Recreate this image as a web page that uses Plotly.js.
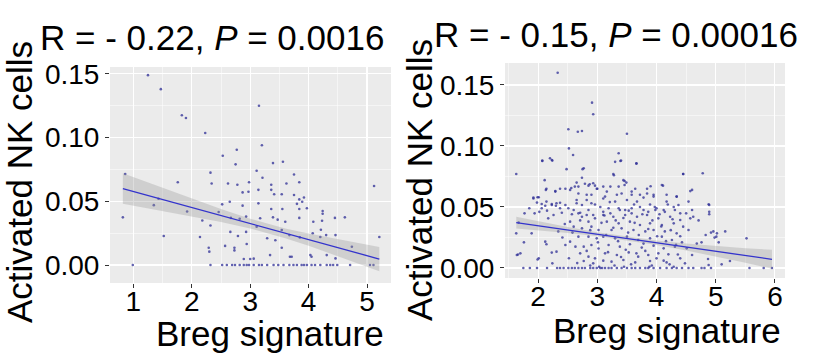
<!DOCTYPE html>
<html><head><meta charset="utf-8">
<script src="https://cdn.plot.ly/plotly-3.0.1.min.js"></script>
<style>html,body{margin:0;padding:0;background:#fff}#chart{width:819px;height:363px}</style>
</head><body><div id="chart"></div>
<script>
// ---- Left panel data ----
const breg1 = [1.25,1.47,1.83,1.90,2.23,3.15,3.20,2.77,2.53,2.75,3.39,3.56,3.11,2.32,3.75,0.86,2.34,2.62,2.78,2.98,3.21,3.36,3.62,3.84,1.76,5.12,2.87,2.97,3.14,3.36,3.41,3.54,3.75,3.84,3.92,3.80,3.89,1.35,1.43,2.52,2.65,2.87,3.14,3.36,3.55,3.84,3.97,4.24,4.24,4.45,4.62,0.82,1.92,2.18,2.46,2.67,2.82,2.93,3.17,3.39,3.47,3.60,3.84,4.08,4.23,1.52,2.14,2.32,2.66,2.79,2.93,3.11,3.29,3.43,3.54,3.67,3.85,4.07,4.21,4.30,4.46,4.20,5.21,2.29,2.30,2.57,2.73,2.73,2.94,3.34,3.54,3.68,3.71,4.03,4.05,4.31,4.46,4.74,2.89,3.00,3.06,
0.99,2.32,2.52,2.60,2.69,2.74,2.82,2.89,2.94,2.98,3.06,3.15,3.20,3.29,3.40,3.48,3.57,3.67,3.74,3.80,3.88,3.92,3.97,4.05,4.11,4.20,4.31,4.37,4.42,4.49,4.71,5.05,5.11];
const nk1 = [0.149,0.138,0.1175,0.1154,0.1036,0.125,0.094,0.0905,0.0858,0.079,0.080,0.081,0.074,0.0725,0.071,0.0714,0.064,0.064,0.063,0.065,0.0685,0.063,0.064,0.065,0.065,0.062,0.057,0.0575,0.059,0.059,0.0555,0.0555,0.055,0.0515,0.053,0.048,0.0497,0.047,0.052,0.0476,0.0497,0.0466,0.0484,0.044,0.044,0.044,0.0445,0.0424,0.0403,0.037,0.0374,0.0374,0.042,0.035,0.0416,0.037,0.0363,0.038,0.0367,0.0374,0.0356,0.034,0.037,0.034,0.0348,0.0228,0.022,0.031,0.026,0.0228,0.026,0.030,0.021,0.0194,0.0275,0.0235,0.0217,0.0249,0.0277,0.0235,0.0235,0.022,0.022,0.0136,0.0105,0.015,0.0136,0.0115,0.0165,0.0078,0.0136,0.0065,0.0065,0.0078,0.0065,0.0078,0.0052,0.0144,0.0047,0.0047,0.005,
0,0,0,0,0,0,0,0,0,0,0,0,0,0,0,0,0,0,0,0,0,0,0,0,0,0,0,0,0,0,0,0,0];
const fitX1 = [0.82,1.5,2.0,2.5,3.0,3.3,3.6,4.0,4.5,5.21];
const fitY1 = [0.0600,0.0514,0.0451,0.0388,0.0325,0.0287,0.0249,0.0199,0.0136,0.0047];
const upper1 = [0.0720,0.0604,0.0521,0.0439,0.0363,0.0322,0.0287,0.0247,0.0202,0.0142];
const lower1 = [0.0480,0.0424,0.0381,0.0337,0.0287,0.0252,0.0211,0.0151,0.0070,-0.0048];
const title1 = 'R = - 0.22, <i>P</i> = 0.0016';

// ---- Right panel data ----
const breg2 = [2.33,2.91,2.93,2.51,2.67,2.74,3.50,2.52,2.59,2.07,2.20,2.24,3.36,3.39,3.66,1.63,2.48,2.75,4.45,4.78,3.28,2.74,2.68,2.56,2.46,2.87,2.96,3.00,3.46,3.46,3.22,3.90,4.11,
2.13,2.29,1.92,1.99,2.06,2.12,2.23,2.30,2.37,2.46,2.65,2.82,3.05,3.13,3.33,3.58,3.72,3.84,3.95,4.17,4.34,4.57,4.88,4.89,1.94,2.02,2.15,2.26,2.40,2.60,2.71,2.85,2.93,3.10,3.22,3.36,3.47,3.58,3.72,3.86,4.00,4.12,4.29,4.40,4.62,4.71,4.96,5.02,5.16,5.52,1.63,1.89,1.76,1.66,1.99,2.14,2.23,2.24,
2.07,2.23,2.77,2.11,2.65,2.79,2.85,2.93,2.99,2.62,2.54,2.37,2.14,2.29,2.68,2.82,2.90,1.92,2.01,1.98,2.14,2.23,2.31,2.37,2.51,2.74,2.65,2.90,2.06,1.85,1.77,2.82,2.74,2.68,2.96,2.17,2.54,2.85,1.67,2.60,2.74,2.90,3.02,2.34,2.68,2.85,2.99,2.12,2.46,2.54,2.63,2.77,2.90,3.02,2.31,1.70,2.01,2.71,2.85,2.96,2.77,2.93,
3.30,3.40,3.66,3.27,3.44,3.49,3.10,3.36,3.64,3.84,4.09,4.45,4.60,3.16,3.41,3.58,3.78,3.95,4.34,3.10,3.30,3.50,3.67,3.89,4.17,4.37,4.54,3.19,3.38,3.58,3.78,3.98,4.14,4.31,4.50,4.60,3.10,3.27,3.47,3.67,3.84,4.03,4.23,4.40,4.57,3.16,3.36,3.55,3.72,3.89,4.09,4.29,4.45,3.24,3.41,3.61,3.81,3.95,4.14,4.34,4.54,3.10,3.30,3.50,3.69,3.89,4.09,4.26,4.43,3.19,3.38,3.55,3.75,3.95,4.12,4.31,4.51,3.13,3.33,3.53,3.69,3.86,4.00,4.20,4.40,4.60,3.24,3.44,3.64,3.89,4.17,4.48,
4.89,4.89,4.92,4.83,4.98,5.01,5.05,4.68,4.76,4.87,4.88,5.10,5.24,1.64,
2.45,2.58,2.71,2.88,3.07,3.15,3.27,3.35,3.44,3.52,3.63,3.70,3.78,3.86,3.93,4.01,4.08,4.16,4.24,4.33,4.40,2.52,2.66,2.82,3.10,3.18,3.29,3.40,3.48,3.57,3.66,3.81,3.92,4.03,4.12,4.22,4.36,2.41,2.57,2.96,3.21,3.53,3.76,4.05,4.27,3.01,3.12,3.31,3.62,3.97,4.19,2.88,3.03,3.45,3.88,4.29,
1.75,1.86,1.98,2.15,2.32,2.37,2.43,2.51,2.57,2.62,2.68,2.74,2.79,2.88,2.93,2.99,3.05,3.08,3.13,3.19,3.24,3.33,3.41,3.50,3.58,3.64,3.72,3.81,3.86,3.95,4.06,4.17,4.26,4.34,4.43,4.54,4.62,4.76,4.81,4.92,5.57,5.81,5.95];
const nk2 = [0.160,0.1355,0.126,0.1137,0.1117,0.1123,0.110,0.098,0.0926,0.088,0.090,0.088,0.094,0.0877,0.0855,0.077,0.081,0.081,0.077,0.0776,0.076,0.074,0.0667,0.0656,0.065,0.0686,0.0675,0.065,0.0713,0.068,0.0667,0.067,0.0675,
0.064,0.0626,0.0577,0.058,0.0525,0.051,0.0525,0.051,0.0535,0.0516,0.053,0.0557,0.050,0.0585,0.060,0.0626,0.060,0.061,0.0585,0.060,0.0585,0.063,0.0522,0.046,0.0448,0.046,0.047,0.0434,0.0453,0.0475,0.0453,0.0475,0.0434,0.046,0.0448,0.049,0.0475,0.0448,0.050,0.046,0.049,0.0475,0.050,0.0448,0.042,0.039,0.030,0.0284,0.030,0.0243,0.0284,0.0284,0.021,0.011,0.007,0.0194,0.0126,0.0038,
0.0877,0.0885,0.0817,0.072,0.070,0.069,0.0675,0.0694,0.065,0.0667,0.064,0.065,0.065,0.063,0.061,0.060,0.060,0.057,0.058,0.0536,0.0544,0.0516,0.053,0.049,0.049,0.0516,0.0557,0.053,0.049,0.049,0.0448,0.0434,0.042,0.0448,0.0407,0.0407,0.038,0.038,0.0372,0.0339,0.0325,0.0339,0.0311,0.030,0.0257,0.0257,0.0243,0.0216,0.0189,0.0216,0.0175,0.0175,0.0189,0.016,0.0134,0.012,0.0079,0.012,0.0093,0.0079,0.0057,0.0038,
0.087,0.088,0.0858,0.077,0.072,0.070,0.0667,0.0667,0.065,0.065,0.068,0.077,0.064,0.0626,0.061,0.060,0.0577,0.060,0.0585,0.057,0.0544,0.0557,0.0544,0.052,0.0544,0.0516,0.0544,0.049,0.0475,0.049,0.0475,0.0475,0.046,0.0475,0.0448,0.0475,0.0434,0.042,0.0434,0.042,0.0434,0.0407,0.042,0.0393,0.0407,0.038,0.0366,0.038,0.0352,0.0366,0.0352,0.0366,0.0339,0.0311,0.0325,0.0311,0.030,0.0311,0.030,0.0284,0.0311,0.0257,0.0243,0.0257,0.023,0.0243,0.0257,0.023,0.021,0.0189,0.0175,0.0194,0.0167,0.0183,0.0161,0.0175,0.0161,0.012,0.0107,0.0128,0.0093,0.0107,0.0079,0.0112,0.0079,0.0107,0.0052,0.0066,0.0046,0.0057,0.0046,0.0038,
0.0516,0.044,0.029,0.027,0.0249,0.0257,0.021,0.020,0.021,0.0074,0.0025,0.003,0.0057,0.0107,
0.036,0.029,0.039,0.031,0.037,0.027,0.033,0.022,0.041,0.029,0.037,0.027,0.020,0.032,0.039,0.026,0.034,0.022,0.031,0.019,0.026,0.008,0.004,0.014,0.006,0.013,0.002,0.009,0.015,0.003,0.012,0.014,0.002,0.012,0.006,0.003,0.011,0.025,0.044,0.052,0.054,0.047,0.044,0.044,0.040,0.021,0.043,0.039,0.052,0.050,0.052,0.002,0.001,0.001,0.001,0.001,
0,0,0,0,0,0,0,0,0,0,0,0,0,0,0,0,0,0,0,0,0,0,0,0,0,0,0,0,0,0,0,0,0,0,0,0,0,0,0,0,0,0,0];
const fitX2 = [1.63,2.0,2.5,3.0,3.5,4.0,4.5,5.0,5.5,5.95];
const fitY2 = [0.0372,0.0346,0.0311,0.0277,0.0242,0.0207,0.0172,0.0137,0.0102,0.0071];
const upper2 = [0.0420,0.0382,0.0335,0.0293,0.0256,0.0225,0.0200,0.0179,0.0162,0.0149];
const lower2 = [0.0324,0.0310,0.0287,0.0261,0.0228,0.0189,0.0144,0.0095,0.0042,-0.0007];
const title2 = 'R = - 0.15, <i>P</i> = 0.00016';

const xTitle = 'Breg signature';
const yTitle = 'Activated NK cells';
const xTicks1 = [1,2,3,4,5];
const xTicks2 = [2,3,4,5,6];
const yTicks = [0,0.05,0.10,0.15];
const yTickText = ['0.00','0.05','0.10','0.15'];

// ---- drawing ----
const W = 819, H = 363;
const FONT = 'Liberation Sans, Arial, Helvetica, sans-serif';
const pxX = v => v / W, pxY = v => 1 - v / H;
const ptColor = 'rgba(45,45,150,0.75)';
const lineColor = '#3333CC';
const bandColor = 'rgba(150,150,150,0.32)';

function panel(bx, ny, fx, fy, up, lo, xa, ya) {
  return [
    {type:'scatter', mode:'markers', x:bx, y:ny, xaxis:xa, yaxis:ya,
     marker:{size:2.6, color:ptColor}, hoverinfo:'skip', showlegend:false},
    {type:'scatter', mode:'lines', x:fx.concat(fx.slice().reverse()), y:up.concat(lo.slice().reverse()),
     fill:'toself', fillcolor:bandColor, line:{width:0}, xaxis:xa, yaxis:ya, hoverinfo:'skip', showlegend:false},
    {type:'scatter', mode:'lines', x:fx, y:fy, line:{color:lineColor, width:1.3}, xaxis:xa, yaxis:ya,
     hoverinfo:'skip', showlegend:false}
  ];
}
const data = panel(breg1, nk1, fitX1, fitY1, upper1, lower1, 'x', 'y')
  .concat(panel(breg2, nk2, fitX2, fitY2, upper2, lower2, 'x2', 'y2'));

const tickFont = {family:FONT, size:28, color:'#000'};
function xax(domain, range, vals, anchor) {
  return {domain, range, tickvals:vals, ticktext:vals.map(String), anchor,
    showgrid:true, gridcolor:'#fff', gridwidth:1.1, zeroline:false, showline:false,
    ticks:'outside', ticklen:4, tickwidth:1, tickcolor:'#333', tickfont:tickFont, ticklabelstandoff:-11,
    minor:{dtick:0.5, tick0:0.5, showgrid:true, gridcolor:'#fff', gridwidth:0.5, ticks:''}, fixedrange:true};
}
function yax(domain, range, anchor) {
  return {domain, range, tickvals:yTicks, ticktext:yTickText, anchor,
    showgrid:true, gridcolor:'#fff', gridwidth:1.1, zeroline:false, showline:false,
    ticks:'outside', ticklen:4, tickwidth:1, tickcolor:'#333', tickfont:tickFont,
    minor:{dtick:0.025, tick0:0.025, showgrid:true, gridcolor:'#fff', gridwidth:0.5, ticks:''}, fixedrange:true};
}
const bigFont = {family:FONT, size:35, color:'#000'};
function ann(text, x, y, angle) {
  return {text, x:pxX(x), y:pxY(y), xref:'paper', yref:'paper', xanchor:'center', yanchor:'middle',
    showarrow:false, font:bigFont, textangle:angle||0};
}
const layout = {
  width:W, height:H, margin:{l:0,r:0,t:0,b:0},
  paper_bgcolor:'#fff', plot_bgcolor:'#EBEBEB', showlegend:false,
  xaxis: xax([110/W, 391/W], [0.6, 5.41], xTicks1, 'y'),
  yaxis: yax([(H-283)/H, (H-67)/H], [-0.0141, 0.1554], 'x'),
  xaxis2: xax([505/W, 785/W], [1.44, 6.17], xTicks2, 'y2'),
  yaxis2: yax([(H-278)/H, (H-63)/H], [-0.0082, 0.168], 'x2'),
  annotations: [
    ann(title1, 212, 37), ann(title2, 616, 34),
    ann(yTitle, 20, 182, -90), ann(yTitle, 419, 180, -90),
    ann(xTitle, 270, 333), ann(xTitle, 667, 330)
  ]
};
Plotly.newPlot('chart', data, layout, {staticPlot:true, displayModeBar:false});
</script></body></html>
